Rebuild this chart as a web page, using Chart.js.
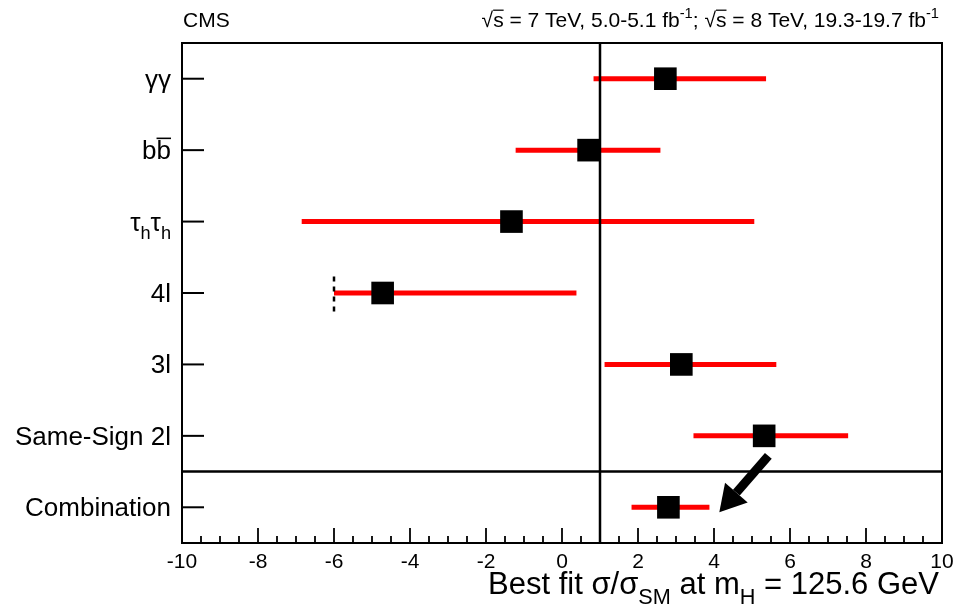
<!DOCTYPE html>
<html>
<head>
<meta charset="utf-8">
<script src="https://cdn.jsdelivr.net/npm/chart.js@4.4.1/dist/chart.umd.min.js"></script>
<style>
  html, body { margin: 0; padding: 0; background: #fff; }
  #wrap { width: 958px; height: 615px; }
</style>
</head>
<body>
<div id="wrap"><canvas id="c" width="958" height="615"></canvas></div>
<script>
// channels, top to bottom
const channels = ['γγ', 'bb̄', 'τhτh', '4l', '3l', 'Same-Sign 2l', 'Combination'];
const bestFit = [2.72, 0.70, -1.33, -4.72, 3.14, 5.32, 2.80];
const lowErr  = [0.83, -1.22, -6.85, -6.00, 1.12, 3.46, 1.83];
const highErr = [5.37, 2.59, 5.06, 0.38, 5.64, 7.53, 3.88];
const xTicks = [-10, -8, -6, -4, -2, 0, 2, 4, 6, 8, 10];
const smLine = 1;          // SM expectation
const limit4l = -6;        // dashed boundary on the 4l row
const arrowFrom = [5.43, 1.22];
const arrowTo = [4.14, 0.43];

const FONT = '"Liberation Sans", Arial, Helvetica, sans-serif';
const N = channels.length;
const rowY = i => N - 0.5 - i;

// label pieces: sub / sup / over(line)
const labelParts = [
  [{t: 'γγ'}],
  [{t: 'b'}, {t: 'b', over: true}],
  [{t: 'τ'}, {t: 'h', sub: true}, {t: 'τ'}, {t: 'h', sub: true}],
  [{t: '4l'}],
  [{t: '3l'}],
  [{t: 'Same-Sign 2l'}],
  [{t: 'Combination'}]
];
const xTitle = [{t: 'Best fit σ/σ'}, {t: 'SM', sub: true}, {t: ' at m'}, {t: 'H', sub: true}, {t: ' = 125.6 GeV'}];
const header = [{t: '√'}, {t: 's', over: true}, {t: ' = 7 TeV, 5.0-5.1 fb'}, {t: '-1', sup: true},
  {t: '; √'}, {t: 's', over: true}, {t: ' = 8 TeV, 19.3-19.7 fb'}, {t: '-1', sup: true}];

function drawRich(ctx, segs, x, y, size, align) {
  let w = 0;
  const parts = segs.map(s => {
    const fs = (s.sub || s.sup) ? size * 0.7 : size;
    ctx.font = fs + 'px ' + FONT;
    const mw = ctx.measureText(s.t).width;
    w += mw;
    return Object.assign({}, s, {fs: fs, mw: mw});
  });
  let cx = align === 'right' ? x - w : x;
  ctx.textAlign = 'left';
  ctx.textBaseline = 'alphabetic';
  parts.forEach(p => {
    ctx.font = p.fs + 'px ' + FONT;
    let dy = 0;
    if (p.sub) dy = size * 0.32;
    if (p.sup) dy = -size * 0.42;
    ctx.fillText(p.t, cx, y + dy);
    if (p.over) {
      ctx.lineWidth = Math.max(1.2, size * 0.06);
      ctx.beginPath();
      ctx.moveTo(cx, y - size * 0.8);
      ctx.lineTo(cx + p.mw, y - size * 0.8);
      ctx.stroke();
    }
    cx += p.mw;
  });
}

const decor = {
  id: 'decor',
  afterDatasetsDraw(chart) {
    const ctx = chart.ctx;
    const xs = chart.scales.x, ys = chart.scales.y;
    const a = chart.chartArea;
    ctx.save();
    ctx.strokeStyle = '#000';
    ctx.fillStyle = '#000';

    // frame
    ctx.lineWidth = 2;
    ctx.strokeRect(a.left, a.top, a.right - a.left, a.bottom - a.top);

    // x ticks (inside)
    ctx.lineWidth = 1.8;
    for (let v = -10; v <= 10.001; v += 0.5) {
      const px = xs.getPixelForValue(v);
      const len = (Math.abs(v % 2) < 1e-6) ? 15 : 7;
      ctx.beginPath();
      ctx.moveTo(px, a.bottom);
      ctx.lineTo(px, a.bottom - len);
      ctx.stroke();
    }

    // y ticks and labels
    channels.forEach((c, i) => {
      const py = ys.getPixelForValue(rowY(i));
      ctx.lineWidth = 2;
      ctx.beginPath();
      ctx.moveTo(a.left, py);
      ctx.lineTo(a.left + 22, py);
      ctx.stroke();
      drawRich(ctx, labelParts[i], a.left - 11, py + 9, 26, 'right');
    });

    // arrow
    const x0 = xs.getPixelForValue(arrowFrom[0]), y0 = ys.getPixelForValue(arrowFrom[1]);
    const x1 = xs.getPixelForValue(arrowTo[0]), y1 = ys.getPixelForValue(arrowTo[1]);
    const ang = Math.atan2(y1 - y0, x1 - x0);
    const headLen = 26, headW = 15;
    const bx = x1 - headLen * Math.cos(ang), by = y1 - headLen * Math.sin(ang);
    ctx.lineWidth = 9;
    ctx.lineCap = 'butt';
    ctx.beginPath();
    ctx.moveTo(x0, y0);
    ctx.lineTo(bx, by);
    ctx.stroke();
    ctx.beginPath();
    ctx.moveTo(x1, y1);
    ctx.lineTo(bx + headW * Math.sin(ang), by - headW * Math.cos(ang));
    ctx.lineTo(bx - headW * Math.sin(ang), by + headW * Math.cos(ang));
    ctx.closePath();
    ctx.fill();

    // texts
    ctx.font = '21px ' + FONT;
    ctx.textAlign = 'left';
    ctx.textBaseline = 'alphabetic';
    ctx.fillText('CMS', a.left + 1, 27);
    drawRich(ctx, header, a.right - 3, 27, 21, 'right');
    drawRich(ctx, xTitle, a.right - 3, 594, 31, 'right');
    ctx.restore();
  }
};

const datasets = [];
// best-fit markers on top
datasets.push({
  data: bestFit.map((v, i) => ({x: v, y: rowY(i)})),
  pointStyle: 'rect',
  pointRadius: 16,
  pointHoverRadius: 16,
  backgroundColor: '#000',
  borderColor: '#000',
  borderWidth: 0,
  showLine: false,
  order: 0
});
// SM line
datasets.push({
  data: [{x: smLine, y: 0}, {x: smLine, y: N}],
  showLine: true, borderColor: '#000', borderWidth: 2.5, pointRadius: 0, order: 1
});
// separator above combination
datasets.push({
  data: [{x: -10, y: 1}, {x: 10, y: 1}],
  showLine: true, borderColor: '#000', borderWidth: 2.5, pointRadius: 0, order: 1
});
// 4l boundary
datasets.push({
  data: [{x: limit4l, y: rowY(3) - 0.26}, {x: limit4l, y: rowY(3) + 0.26}],
  showLine: true, borderColor: '#000', borderWidth: 2.5, borderDash: [5, 5], pointRadius: 0, order: 1
});
// error bars
channels.forEach((c, i) => {
  datasets.push({
    data: [{x: lowErr[i], y: rowY(i)}, {x: highErr[i], y: rowY(i)}],
    showLine: true, borderColor: '#ff0000', borderWidth: 5, borderCapStyle: 'butt',
    pointRadius: 0, order: 2
  });
});

new Chart(document.getElementById('c'), {
  type: 'scatter',
  data: {datasets: datasets},
  options: {
    responsive: false,
    animation: false,
    events: [],
    layout: {padding: {left: 182, top: 43, right: 15, bottom: 0}},
    plugins: {legend: {display: false}, tooltip: {enabled: false}},
    scales: {
      x: {
        type: 'linear', min: -10, max: 10,
        afterBuildTicks: s => { s.ticks = xTicks.map(v => ({value: v})); },
        afterFit: s => { s.height = 72; s.paddingRight = 0; s.paddingLeft = 0; },
        grid: {display: false, drawTicks: false},
        border: {display: false},
        ticks: {color: '#000', font: {family: FONT, size: 21}, padding: 7, maxRotation: 0, autoSkip: false}
      },
      y: {
        type: 'linear', min: 0, max: N, display: false
      }
    }
  },
  plugins: [decor]
});
</script>
</body>
</html>
